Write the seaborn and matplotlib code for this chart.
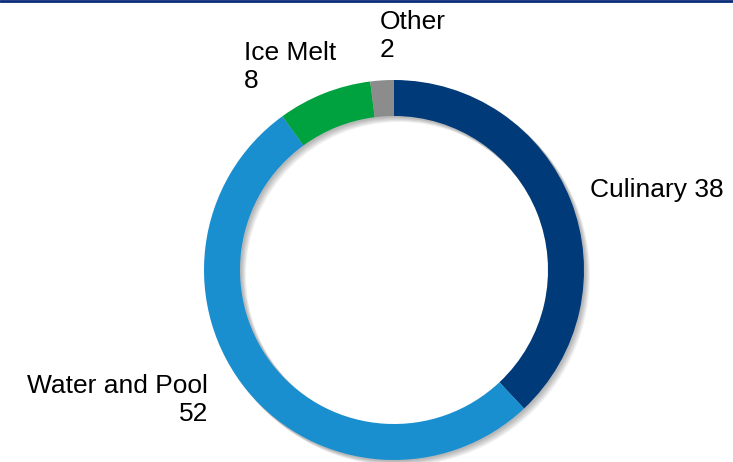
import matplotlib
matplotlib.use("Agg")
import matplotlib.pyplot as plt
from matplotlib.patches import Wedge
from matplotlib.lines import Line2D
import seaborn as sns

categories = ["Culinary", "Water and Pool", "Ice Melt", "Other"]
values = [38, 52, 8, 2]
colors = ["#003a78", "#1a8fd0", "#00a23f", "#8c8c8c"]

sns.set_theme(style="white")
plt.rcParams["font.family"] = ["Liberation Sans", "DejaVu Sans"]

W, H = 733, 462
fig = plt.figure(figsize=(W / 100, H / 100), dpi=100)
ax = fig.add_axes([0, 0, 1, 1])

cx, cy = 394, H - 270
r_out, ring = 190, 36

# soft drop shadow behind the ring
for i in range(6):
    off = 1.0 + i * 0.9
    ax.add_patch(Wedge((cx + off, cy - off), r_out + 0.5, 0, 360, width=ring + 1,
                       facecolor="black", edgecolor="none", alpha=0.05, zorder=1))

ax.pie(values, colors=colors, startangle=90, counterclock=False,
       center=(cx, cy), radius=r_out, frame=True,
       wedgeprops=dict(width=ring, edgecolor="none", zorder=2))
ax.set_xlim(0, W)
ax.set_ylim(0, H)
ax.set_aspect("equal")
ax.axis("off")

fs = 19
ls = 1.22
ax.text(590, H - 190, f"{categories[0]} {values[0]}", ha="left", va="center", fontsize=fs, color="black")
ax.text(208, H - 400, f"{categories[1]}\n{values[1]}", ha="right", va="center", multialignment="right",
        fontsize=fs, color="black", linespacing=ls)
ax.text(244, H - 67, f"{categories[2]}\n{values[2]}", ha="left", va="center", multialignment="left",
        fontsize=fs, color="black", linespacing=ls)
ax.text(380, H - 36, f"{categories[3]}\n{values[3]}", ha="left", va="center", multialignment="left",
        fontsize=fs, color="black", linespacing=ls)

fig.add_artist(Line2D([0, 1], [1 - 1 / H, 1 - 1 / H], transform=fig.transFigure,
                      color="#0a2a7a", linewidth=2))

fig.savefig("out.png", dpi=100, facecolor="white")
